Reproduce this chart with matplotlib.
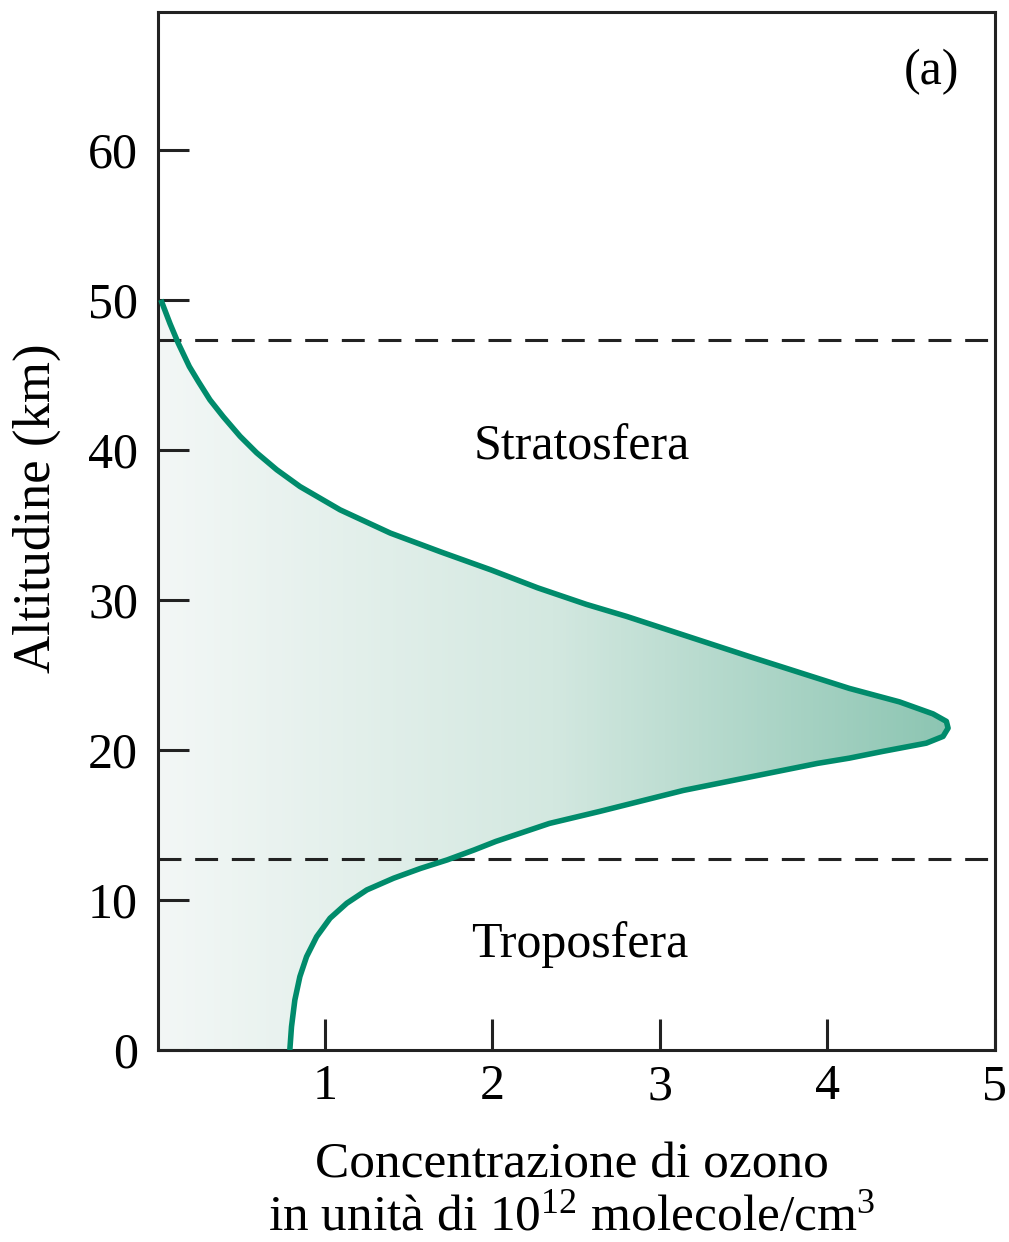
import numpy as np
import matplotlib
matplotlib.use("Agg")
import matplotlib.pyplot as plt
from matplotlib.colors import LinearSegmentedColormap

plt.rcParams["font.family"] = ["Liberation Serif", "DejaVu Serif"]
plt.rcParams["mathtext.fontset"] = "custom"
plt.rcParams["mathtext.rm"] = "Liberation Serif"
plt.rcParams["mathtext.it"] = "Liberation Serif:italic"

# ozone profile (altitude in km, concentration in 1e12 molecules/cm3)
altitude = [0.0, 1.55, 3.33, 4.89, 6.22, 7.55, 8.78, 9.78, 10.67, 11.45, 12.1,
            12.67, 13.33, 13.9, 15.1, 15.9, 17.3, 19.1, 19.45, 19.9, 20.45, 20.9,
            21.45, 21.9, 22.4, 23.2, 24.1, 26.2, 28.9, 29.7, 30.8, 32.0, 33.2,
            34.45, 36.0, 37.55, 38.67, 39.8, 40.9, 42.2, 43.33, 44.55, 45.55, 47.1,
            48.4, 50.0]
concentration = [0.79, 0.80, 0.82, 0.85, 0.89, 0.95, 1.03, 1.13, 1.25, 1.41, 1.57,
                 1.73, 1.89, 2.02, 2.34, 2.64, 3.14, 3.94, 4.13, 4.33, 4.59, 4.69,
                 4.72, 4.71, 4.63, 4.43, 4.13, 3.54, 2.80, 2.56, 2.27, 1.99, 1.69,
                 1.39, 1.09, 0.851, 0.712, 0.592, 0.493, 0.393, 0.313, 0.244, 0.19, 0.124,
                 0.075, 0.02]

stratopause = 47.3
tropopause = 12.7

x_ticks = [1, 2, 3, 4, 5]
y_ticks = [0, 10, 20, 30, 40, 50, 60]

line_color = "#008b6b"
grad = LinearSegmentedColormap.from_list("ozone", ["#f3f7f6", "#d3e8e0", "#8cc5b2"])

fig = plt.figure(figsize=(10.09, 12.42), dpi=100)
ax = fig.add_axes([0.1561, 0.1546, 0.830, 0.836])

# gradient fill under the curve
poly = ax.fill_betweenx(altitude, 0, concentration, color="none", lw=0)
img = ax.imshow(np.linspace(0, 1, 256).reshape(1, -1), cmap=grad, aspect="auto",
                extent=[0, max(concentration), 0, max(altitude)], origin="lower", zorder=1)
img.set_clip_path(poly.get_paths()[0], transform=ax.transData)

ax.plot(concentration, altitude, color=line_color, lw=4.0, solid_capstyle="butt",
        solid_joinstyle="round", zorder=3)

for h in [stratopause, tropopause]:
    ax.axhline(h, color="#222222", lw=2.2, dashes=(7.5, 4.5), zorder=2)

ax.set_xlim(0, 5)
ax.set_ylim(0, 69.2)
ax.set_xticks(x_ticks)
ax.set_yticks(y_ticks)
ax.set_xticklabels([str(t) for t in x_ticks])
ax.set_yticklabels([str(t) for t in y_ticks])
ax.tick_params(direction="in", length=22, width=2.2, color="#222222", labelsize=36)
ax.tick_params(axis="x", pad=10)
ax.tick_params(axis="y", pad=14)
for s in ax.spines.values():
    s.set_linewidth(2.2)
    s.set_color("#222222")

ax.text(2.53, 40.2, "Stratosfera", fontsize=36, ha="center", va="center")
ax.text(2.52, 7.0, "Troposfera", fontsize=36, ha="center", va="center")
ax.text(4.62, 65.2, "(a)", fontsize=36, ha="center", va="center")

fig.text(37 / 1009, 1 - 508 / 1242, "Altitudine (km)", rotation=90, fontsize=38,
         ha="center", va="center")
fig.text(572 / 1009, 1 - 1178 / 1242, "Concentrazione di ozono", fontsize=37,
         ha="center", va="baseline")
fig.text(572 / 1009, 1 - 1230 / 1242, "in unità di 10$^{12}$ molecole/cm$^{3}$", fontsize=37,
         ha="center", va="baseline")

fig.savefig("out.png", dpi=100)
